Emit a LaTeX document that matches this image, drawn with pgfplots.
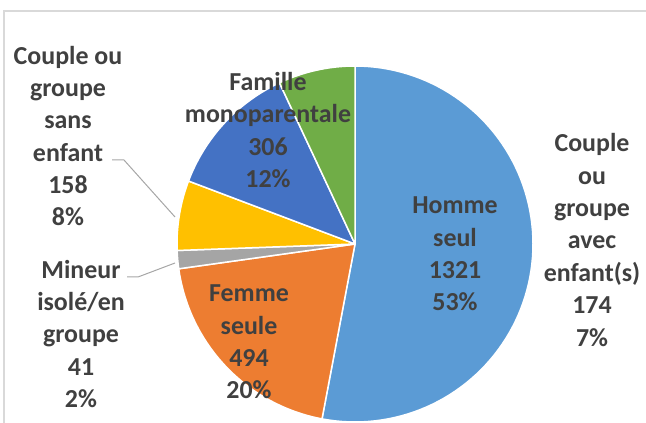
\documentclass[border=0pt]{standalone}
\usepackage{fontspec}
\setmainfont{Carlito}
\usepackage{pgfplots}
\pgfplotsset{compat=1.18}

\definecolor{homme}{HTML}{5B9BD5}
\definecolor{femme}{HTML}{ED7D31}
\definecolor{mineur}{HTML}{A5A5A5}
\definecolor{sans}{HTML}{FFC000}
\definecolor{mono}{HTML}{4472C4}
\definecolor{avec}{HTML}{70AD47}
\definecolor{txt}{HTML}{404040}
\definecolor{frame}{HTML}{D9D9D9}
\definecolor{leader}{HTML}{A6A6A6}

\tikzset{lbl/.style={font=\fontsize{26}{32.5}\selectfont\bfseries,
  text=txt, align=center, inner sep=0pt}}

% one slice: #1 = sum of the values before it, #2 = its value, #3 = colour
% slices run clockwise from 12 o'clock, total = 2494
\newcommand\pieslice[3]{%
  \addplot[fill=#3, draw=white, line width=1.5bp, line join=round,
    domain={90-360*(#1+#2)/2494}:{90-360*(#1)/2494}, samples=90]
    ({355+178*cos(x)}, {179+178*sin(x)}) -- (355,179) -- cycle;
}

\begin{document}
\begin{tikzpicture}
\begin{axis}[
    scale only axis, width=646bp, height=423bp,
    xmin=0, xmax=646, ymin=0, ymax=423,
    hide axis, clip=false,
]
\draw[frame, line width=1.5bp] (4,0) -- (4,412) -- (646,412);

\pieslice{0}{1321}{homme}
\pieslice{1321}{494}{femme}
\pieslice{1321+494}{41}{mineur}
\pieslice{1321+494+41}{158}{sans}
\pieslice{1321+494+41+158}{306}{mono}
\pieslice{1321+494+41+158+306}{174}{avec}

\draw[leader, line width=1bp] (112,263) -- (124,263) -- (175,206);
\draw[leader, line width=1bp] (127,146) -- (138,146) -- (175,160);

\node[lbl] at (455,169) {Homme\\seul\\1321\\53\%};
\node[lbl] at (249,81) {Femme\\seule\\494\\20\%};
\node[lbl] at (81,89) {Mineur\\isolé/en\\groupe\\41\\2\%};
\node[lbl] at (68,287) {Couple ou\\groupe\\sans\\enfant\\158\\8\%};
\node[lbl] at (268,293) {Famille\\monoparentale\\306\\12\%};
\node[lbl] at (592,183) {Couple\\ou\\groupe\\avec\\enfant(s)\\174\\7\%};
\end{axis}
\pgfresetboundingbox
\path (0,0) rectangle (646bp,423bp);
\end{tikzpicture}
\end{document}
